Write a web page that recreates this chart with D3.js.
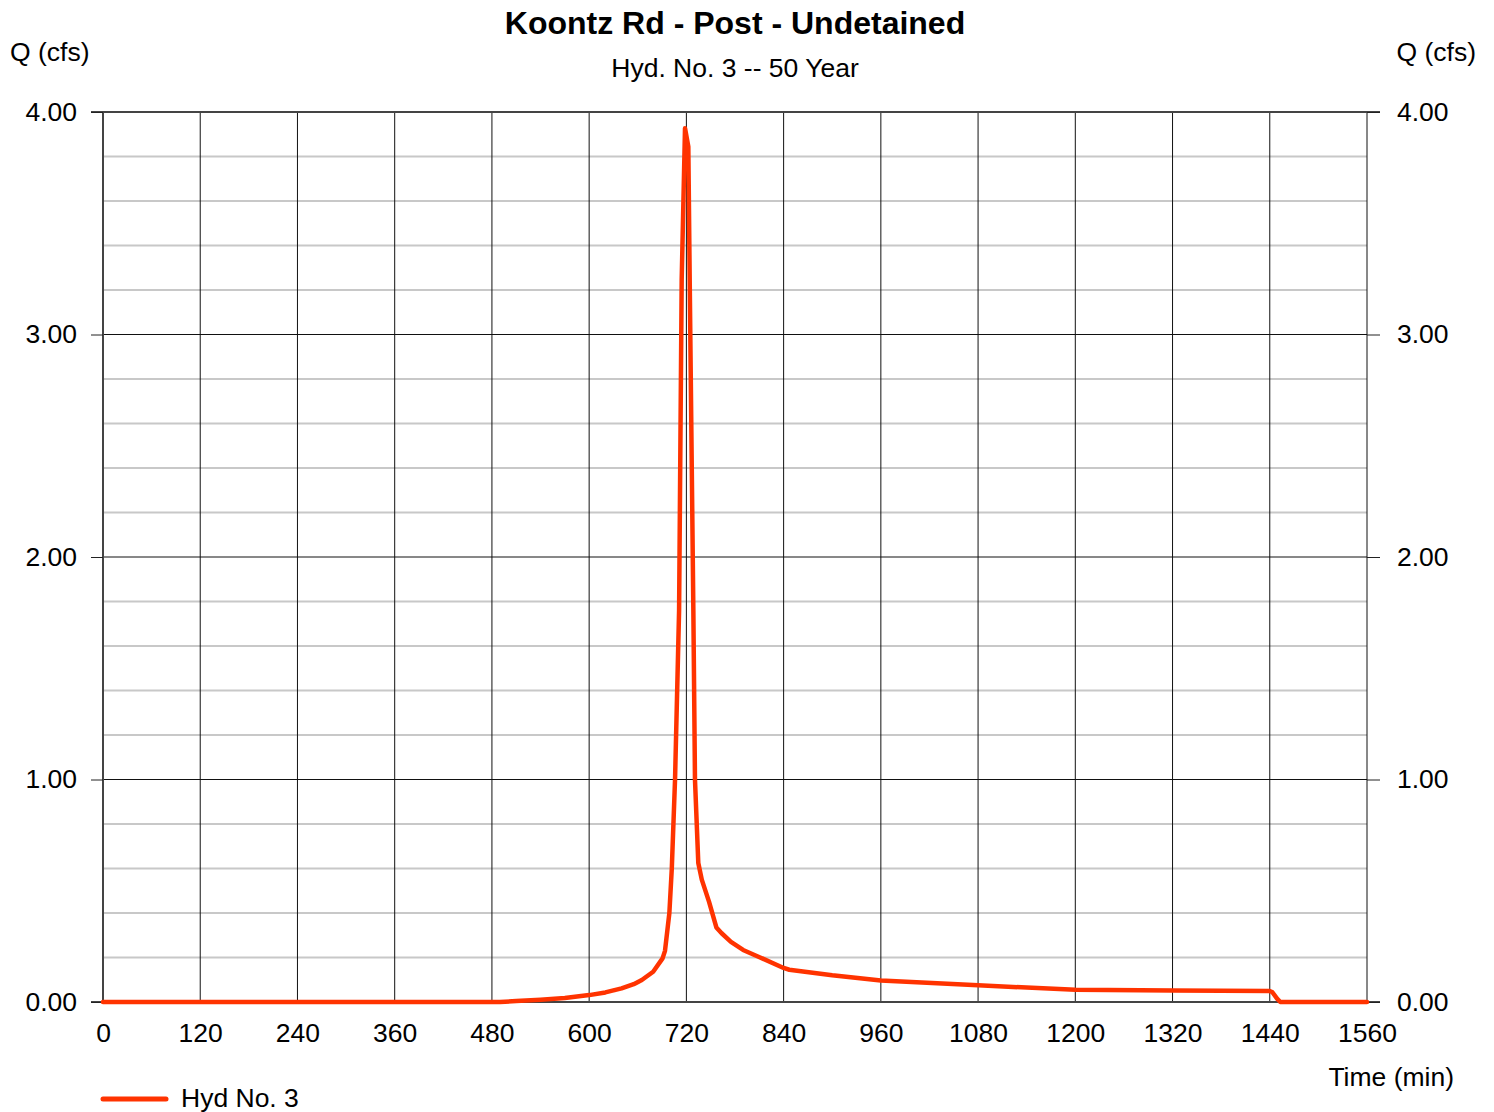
<!DOCTYPE html>
<html>
<head>
<meta charset="utf-8">
<script src="https://cdn.jsdelivr.net/npm/d3@7/dist/d3.min.js"></script>
<style>
  html, body { margin: 0; padding: 0; background: #fff; }
  svg { display: block; font-family: "Liberation Sans", Arial, sans-serif; }
</style>
</head>
<body>
<svg id="chart" width="1494" height="1112"></svg>
<script>
// Hydrograph ordinates: time (min) and flow (cfs)
const timeMin = [0, 490, 510, 540, 570, 600, 620, 640, 655, 665, 679, 690.6, 693.6, 699, 702, 706, 711, 714.2, 718.3, 722.4, 724.1, 728.6, 730.6, 734.7, 739, 748, 757, 763.5, 775, 790, 811, 840, 847, 900, 960, 1080, 1200, 1320, 1440, 1443, 1449, 1453, 1560];
const flowCfs = [0, 0, 0.004, 0.01, 0.018, 0.031, 0.043, 0.061, 0.08, 0.099, 0.136, 0.196, 0.23, 0.4, 0.6, 1.0, 1.76, 3.245, 3.927, 3.844, 3.245, 1.76, 1.0, 0.625, 0.55, 0.45, 0.335, 0.309, 0.27, 0.234, 0.2, 0.153, 0.145, 0.12, 0.097, 0.075, 0.055, 0.052, 0.049, 0.045, 0.015, 0, 0];

const xTicks = [0, 120, 240, 360, 480, 600, 720, 840, 960, 1080, 1200, 1320, 1440, 1560];
const yMajorTicks = [0, 1, 2, 3, 4];
const yMinorTicks = [0.2, 0.4, 0.6, 0.8, 1.2, 1.4, 1.6, 1.8, 2.2, 2.4, 2.6, 2.8, 3.2, 3.4, 3.6, 3.8];

const titleText = "Koontz Rd - Post - Undetained";
const subtitleText = "Hyd. No. 3 -- 50 Year";
const yLabel = "Q (cfs)";
const xLabel = "Time (min)";
const seriesName = "Hyd No. 3";

const svg = d3.select("#chart");
const plotL = 103, plotR = 1367, plotT = 112, plotB = 1002;
const lineColor = "#ff3300";
const fontSize = 26.5;

const x = d3.scaleLinear().domain([0, 1560]).range([plotL, plotR]);
const y = d3.scaleLinear().domain([0, 4]).range([plotB, plotT]);

// minor horizontal grid
svg.append("g").selectAll("line").data(yMinorTicks).join("line")
  .attr("x1", plotL).attr("x2", plotR)
  .attr("y1", d => y(d)).attr("y2", d => y(d))
  .attr("stroke", "#c8c8c8").attr("stroke-width", 2);

// major horizontal grid
svg.append("g").selectAll("line").data([1, 2, 3]).join("line")
  .attr("x1", plotL).attr("x2", plotR)
  .attr("y1", d => y(d)).attr("y2", d => y(d))
  .attr("stroke", "#111").attr("stroke-width", 1);

// vertical grid
svg.append("g").selectAll("line").data(xTicks.slice(1)).join("line")
  .attr("x1", d => x(d)).attr("x2", d => x(d))
  .attr("y1", plotT).attr("y2", plotB)
  .attr("stroke", "#111").attr("stroke-width", 1);

// frame: left, top, bottom
svg.append("line").attr("x1", plotL).attr("x2", plotL).attr("y1", plotT).attr("y2", plotB)
  .attr("stroke", "#444").attr("stroke-width", 2);
svg.append("line").attr("x1", plotL - 12).attr("x2", plotR + 13).attr("y1", plotT).attr("y2", plotT)
  .attr("stroke", "#444").attr("stroke-width", 2);
svg.append("line").attr("x1", plotL - 12).attr("x2", plotR + 13).attr("y1", plotB).attr("y2", plotB)
  .attr("stroke", "#444").attr("stroke-width", 2);

// y axes (left and right) and time axis
const fmt = d3.format(".2f");
const yLeft = d3.axisLeft(y).tickValues(yMajorTicks).tickSize(12).tickPadding(14).tickFormat(fmt);
const yRight = d3.axisRight(y).tickValues(yMajorTicks).tickSize(13).tickPadding(17).tickFormat(fmt);
const xAxis = d3.axisBottom(x).tickValues(xTicks).tickSize(0).tickPadding(21).tickFormat(d3.format("d"));

function styleAxis(g) {
  g.select(".domain").remove();
  g.selectAll(".tick line").attr("stroke", "#222").attr("stroke-width", 1);
  g.selectAll(".tick text").attr("fill", "#000").style("font-size", fontSize + "px")
    .style("font-family", '"Liberation Sans", Arial, sans-serif');
}
svg.append("g").attr("transform", `translate(${plotL},0)`).call(yLeft).call(styleAxis);
svg.append("g").attr("transform", `translate(${plotR},0)`).call(yRight).call(styleAxis);
svg.append("g").attr("transform", `translate(0,${plotB})`).call(xAxis).call(styleAxis);

// hydrograph line
const line = d3.line()
  .x((d, i) => x(timeMin[i]))
  .y((d, i) => y(flowCfs[i]))
  .curve(d3.curveLinear);
svg.append("path").datum(flowCfs)
  .attr("d", line)
  .attr("fill", "none")
  .attr("stroke", lineColor)
  .attr("stroke-width", 4.5)
  .attr("stroke-linejoin", "round")
  .attr("stroke-linecap", "round");

// titles
svg.append("text").attr("x", 735).attr("y", 34).attr("text-anchor", "middle")
  .style("font-size", "32px").style("font-weight", "bold").text(titleText);
svg.append("text").attr("x", 735).attr("y", 77).attr("text-anchor", "middle")
  .style("font-size", fontSize + "px").text(subtitleText);
svg.append("text").attr("x", 10).attr("y", 61)
  .style("font-size", fontSize + "px").text(yLabel);
svg.append("text").attr("x", 1476).attr("y", 61).attr("text-anchor", "end")
  .style("font-size", fontSize + "px").text(yLabel);
svg.append("text").attr("x", 1454).attr("y", 1086).attr("text-anchor", "end")
  .style("font-size", fontSize + "px").text(xLabel);

// legend
svg.append("line").attr("x1", 103).attr("x2", 166).attr("y1", 1099).attr("y2", 1099)
  .attr("stroke", lineColor).attr("stroke-width", 5).attr("stroke-linecap", "round");
svg.append("text").attr("x", 181).attr("y", 1107)
  .style("font-size", fontSize + "px").text(seriesName);
</script>
</body>
</html>
